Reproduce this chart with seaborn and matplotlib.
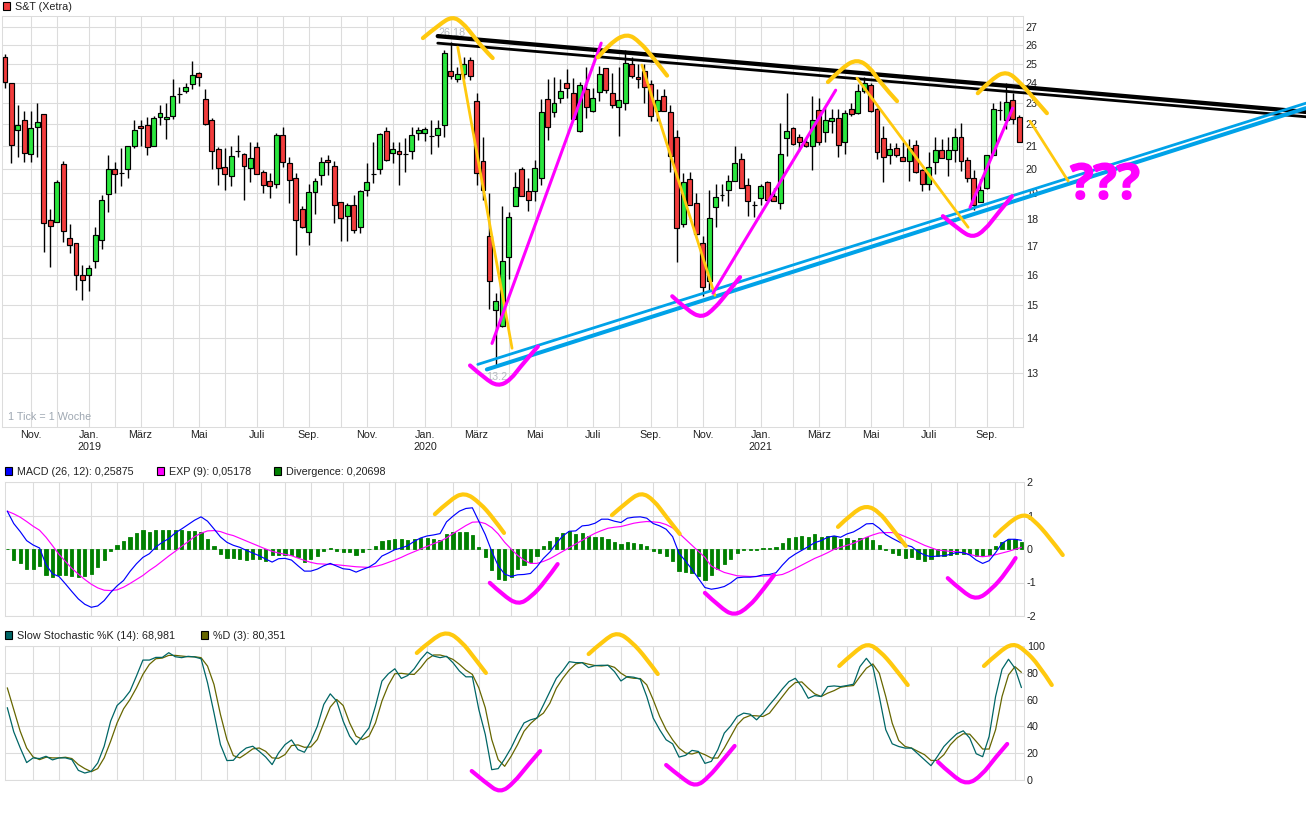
import matplotlib
matplotlib.use("Agg")
import matplotlib.pyplot as plt
import matplotlib.patheffects as pe
from matplotlib.patches import PathPatch, Rectangle
from matplotlib.path import Path
from matplotlib.ticker import NullLocator
import numpy as np
import seaborn as sns

W, H = 1306, 814

opens = [25.33,24.0,21.73,22.2,20.65,21.87,22.45,17.95,17.9,20.2,
         17.3,17.12,16.0,16.0,16.47,17.23,18.96,20.0,19.85,20.0,
         21.0,21.9,21.97,21.0,22.35,22.25,22.4,23.45,23.6,23.95,
         24.5,23.2,22.2,20.85,20.1,19.7,20.8,20.65,20.05,20.95,
         19.9,19.5,19.4,21.5,20.25,19.65,18.4,17.5,19.05,19.75,
         20.38,20.13,18.65,18.1,18.53,17.7,19.15,19.8,20.0,21.7,
         20.7,20.8,20.65,20.8,21.57,21.57,21.47,21.5,21.97,24.6,
         24.2,24.43,25.2,23.1,20.35,17.35,14.85,14.35,16.6,18.5,
         20.0,19.08,19.08,19.65,23.2,22.55,23.25,24.0,23.5,21.7,
         23.7,22.6,23.55,24.75,23.5,22.8,23.0,25.0,24.3,24.6,
         23.95,22.6,23.35,22.57,21.4,17.8,19.6,18.6,17.12,15.8,
         18.45,18.95,19.12,19.5,20.43,19.35,18.55,18.8,19.45,18.88,
         18.62,21.37,21.83,21.4,21.2,21.0,22.67,21.65,22.15,22.3,
         21.17,22.7,22.5,23.6,23.9,22.72,21.37,20.6,20.92,20.52,
         20.35,21.05,19.98,19.4,20.3,20.83,20.43,20.83,21.42,20.38,
         19.65,18.65,19.2,20.62,22.65,22.2,23.15,22.32]
closes = [24.05,21.03,21.95,20.7,21.8,22.1,17.85,17.75,19.45,17.55,
          17.05,16.0,15.83,16.23,17.4,18.75,20.0,19.8,19.85,21.0,
          21.73,21.8,20.95,22.3,22.5,22.35,23.35,23.45,23.8,24.4,
          24.3,22.0,20.8,20.05,19.8,20.55,20.8,20.13,20.47,19.8,
          19.35,19.3,21.5,20.3,19.55,17.95,17.7,19.05,19.5,20.3,
          20.3,18.55,18.03,18.53,17.6,19.08,19.45,19.8,21.55,20.38,
          20.85,20.63,20.65,21.5,21.73,21.78,21.47,21.82,25.55,24.35,
          24.43,25.0,24.35,19.85,19.15,15.8,15.15,16.48,18.07,19.25,
          18.88,18.75,20.05,22.55,21.87,23.0,23.6,23.75,22.25,23.9,
          22.8,23.25,24.45,23.65,22.9,23.15,25.05,24.35,24.2,23.8,
          22.4,23.15,22.63,20.55,17.65,19.45,18.53,17.45,15.6,18.03,
          18.85,18.95,19.5,20.25,19.2,18.7,18.55,19.3,18.75,18.68,
          20.67,21.7,21.08,21.2,21.0,22.2,21.17,22.2,22.3,21.03,
          22.5,22.45,23.6,24.0,22.6,20.75,20.52,20.87,20.6,20.35,
          20.92,19.87,19.4,20.07,20.83,20.47,20.83,21.42,20.35,19.65,
          18.55,19.15,20.6,22.72,22.65,23.05,22.25,21.2]
highs = [25.5,24.0,22.9,22.6,22.6,23.0,22.45,18.4,19.55,20.35,
         17.8,17.12,16.35,16.35,17.7,18.92,20.6,20.3,20.9,21.0,
         22.2,22.2,22.35,22.4,22.9,23.0,24.2,23.8,24.0,25.15,
         24.57,23.67,22.27,20.95,20.9,21.0,21.5,20.7,21.2,21.2,
         19.95,19.85,21.6,21.87,20.5,19.85,18.5,19.4,19.65,20.5,
         20.6,20.35,18.65,18.6,18.95,19.15,20.25,21.2,21.6,21.85,
         21.17,21.17,21.35,21.87,21.87,21.87,22.2,22.2,25.7,26.18,
         24.8,25.35,25.33,23.5,21.4,19.0,15.4,18.5,18.25,19.9,
         20.08,19.65,20.4,23.2,24.2,24.3,24.2,24.7,24.25,24.05,
         24.8,23.75,24.85,24.75,24.5,24.8,25.7,25.35,25.0,25.0,
         24.15,23.67,23.7,22.9,21.73,19.85,19.9,19.0,17.35,19.15,
         19.4,19.4,19.75,21.0,20.7,19.62,18.7,19.4,19.5,19.2,
         22.03,23.5,21.87,21.55,21.3,23.35,23.25,22.77,22.7,22.7,
         22.67,23.0,23.95,24.3,24.0,22.75,21.92,21.15,21.15,21.2,
         21.3,21.25,20.02,20.75,21.42,21.3,21.42,21.8,22.05,20.52,
         19.98,19.6,20.62,23.0,23.1,23.97,23.5,22.42]
lows = [23.75,20.25,20.5,20.3,20.3,20.5,16.8,16.25,17.9,17.15,
        16.75,15.5,15.17,15.45,16.23,16.9,18.25,19.0,19.3,19.65,
        20.9,21.0,20.6,21.0,21.95,21.3,22.25,23.0,23.5,23.7,
        23.83,21.97,20.0,19.35,19.15,19.3,20.5,18.75,19.45,19.8,
        19.03,18.83,19.2,20.07,18.6,16.7,17.65,17.03,18.18,19.35,
        19.75,17.85,17.2,17.2,17.47,17.47,18.9,19.43,19.8,20.35,
        20.27,19.35,19.9,20.45,21.28,21.23,20.67,20.97,21.4,24.2,
        24.05,24.2,24.13,19.35,18.75,14.88,13.2,14.33,15.87,18.5,
        18.88,18.3,18.68,19.35,21.25,22.35,23.0,23.25,22.2,21.65,
        22.3,22.55,23.1,23.5,22.75,21.45,22.65,24.25,23.75,23.0,
        22.15,22.15,22.6,19.9,16.45,17.7,18.53,17.38,15.3,15.5,
        17.7,18.7,18.52,19.5,19.2,18.1,18.07,18.55,18.7,18.68,
        18.38,20.55,21.03,20.8,20.97,19.97,21.05,21.17,21.6,20.5,
        20.67,22.4,22.47,23.5,22.55,20.42,19.48,20.2,20.52,20.33,
        19.52,19.83,19.1,19.15,19.8,20.47,19.73,20.3,19.93,19.45,
        18.33,18.65,19.18,20.62,22.2,21.75,22.0,21.2]

macd = [1.13,0.76,0.52,0.25,0.12,0.03,-0.47,-0.74,-0.82,-1.04,
        -1.27,-1.49,-1.65,-1.74,-1.70,-1.54,-1.30,-1.10,-0.94,-0.67,
        -0.44,-0.25,-0.14,0.06,0.20,0.31,0.48,0.60,0.73,0.86,
        0.96,0.83,0.60,0.36,0.20,0.11,0.05,-0.04,-0.12,-0.20,
        -0.30,-0.39,-0.29,-0.28,-0.33,-0.50,-0.66,-0.66,-0.60,-0.50,
        -0.43,-0.51,-0.59,-0.61,-0.69,-0.61,-0.54,-0.42,-0.21,-0.12,
        -0.02,0.03,0.10,0.23,0.33,0.39,0.42,0.46,0.81,0.98,
        1.13,1.21,1.23,0.83,0.43,-0.07,-0.50,-0.75,-0.82,-0.77,
        -0.76,-0.73,-0.53,-0.28,-0.09,0.17,0.39,0.53,0.54,0.69,
        0.71,0.77,0.89,0.89,0.83,0.79,0.92,0.95,0.96,0.92,
        0.76,0.69,0.59,0.37,-0.13,-0.36,-0.61,-0.88,-1.15,-1.20,
        -1.17,-1.12,-1.01,-0.86,-0.84,-0.84,-0.82,-0.77,-0.76,-0.71,
        -0.48,-0.28,-0.15,-0.04,0.07,0.19,0.25,0.35,0.39,0.35,
        0.45,0.51,0.62,0.75,0.76,0.62,0.43,0.32,0.22,0.12,
        0.07,-0.08,-0.18,-0.23,-0.21,-0.20,-0.16,-0.10,-0.11,-0.18,
        -0.33,-0.43,-0.35,-0.11,0.17,0.29,0.29,0.26]
exp9 = [1.13,1.05,0.95,0.82,0.68,0.56,0.35,0.10,-0.16,-0.37,
        -0.58,-0.75,-0.91,-1.05,-1.16,-1.23,-1.24,-1.22,-1.14,-1.03,
        -0.91,-0.79,-0.64,-0.51,-0.36,-0.21,-0.07,0.08,0.22,0.37,
        0.47,0.54,0.55,0.52,0.45,0.40,0.32,0.24,0.16,0.08,
        0.00,-0.07,-0.12,-0.16,-0.20,-0.27,-0.34,-0.40,-0.44,-0.45,
        -0.46,-0.47,-0.49,-0.51,-0.53,-0.54,-0.55,-0.52,-0.47,-0.40,
        -0.33,-0.25,-0.16,-0.08,0.00,0.08,0.16,0.23,0.33,0.46,
        0.58,0.70,0.80,0.81,0.76,0.64,0.45,0.20,0.00,-0.19,
        -0.33,-0.43,-0.43,-0.37,-0.29,-0.18,-0.07,0.04,0.15,0.26,
        0.37,0.47,0.55,0.62,0.65,0.67,0.72,0.77,0.80,0.82,
        0.81,0.79,0.73,0.63,0.47,0.29,0.11,-0.07,-0.25,-0.51,
        -0.61,-0.70,-0.75,-0.80,-0.81,-0.82,-0.82,-0.81,-0.80,-0.79,
        -0.76,-0.68,-0.58,-0.48,-0.38,-0.28,-0.20,-0.11,-0.01,0.05,
        0.11,0.17,0.26,0.35,0.42,0.48,0.49,0.49,0.45,0.37,
        0.29,0.20,0.11,0.04,-0.03,-0.05,-0.07,-0.08,-0.11,-0.16,
        -0.21,-0.23,-0.21,-0.17,-0.12,-0.07,-0.01,0.05]
divergence = [0.0,-0.32,-0.43,-0.59,-0.59,-0.52,-0.77,-0.85,-0.78,-0.79,
              -0.82,-0.85,-0.82,-0.74,-0.55,-0.32,-0.05,0.13,0.25,0.36,
              0.48,0.58,0.52,0.58,0.58,0.56,0.58,0.58,0.55,0.55,
              0.52,0.31,0.10,-0.14,-0.26,-0.28,-0.29,-0.32,-0.29,-0.30,
              -0.35,-0.18,-0.17,-0.17,-0.19,-0.25,-0.39,-0.30,-0.20,-0.07,
              0.04,-0.05,-0.10,-0.10,-0.17,-0.08,-0.01,0.10,0.25,0.28,
              0.31,0.31,0.28,0.31,0.34,0.34,0.31,0.28,0.46,0.52,
              0.52,0.52,0.43,0.07,-0.23,-0.62,-0.89,-0.92,-0.83,-0.59,
              -0.48,-0.38,-0.21,0.09,0.24,0.35,0.48,0.54,0.45,0.48,
              0.39,0.35,0.35,0.29,0.21,0.15,0.21,0.18,0.15,0.09,
              -0.05,-0.13,-0.21,-0.36,-0.65,-0.68,-0.72,-0.80,-0.93,-0.78,
              -0.60,-0.45,-0.30,-0.11,-0.02,-0.03,-0.03,0.02,0.03,0.06,
              0.18,0.33,0.36,0.39,0.36,0.45,0.36,0.39,0.39,0.30,
              0.33,0.27,0.33,0.36,0.27,0.12,-0.03,-0.13,-0.18,-0.27,
              -0.24,-0.30,-0.36,-0.30,-0.21,-0.21,-0.18,-0.15,-0.15,-0.15,
              -0.21,-0.21,-0.18,0.09,0.21,0.30,0.30,0.21]

stoch_k = [54,36,24,13,16.5,16,17.7,15,16.5,16.5,
           15.2,7.2,5.2,6.5,12.7,25.2,43.9,55.6,60.1,66.3,
           77.6,89.5,89.5,91.5,91.5,95,92,91.3,92.3,91.8,
           90.5,72.6,50.1,26.4,14.5,14.7,20.2,23.9,25.2,21.4,
           17.2,11.5,20.2,26.4,29.9,22.7,20.7,28.9,40.1,56.4,
           64.3,58.9,43.9,32.7,26.4,32.7,38.9,55.1,73.8,79.3,
           83,75.8,78,83,90,95.5,92.5,91.3,92.3,87.5,
           81.3,77,77,52.6,34,7.7,8.5,15.7,23.9,33.9,
           42.6,44.9,46.2,56,66,75.9,81.6,88.3,87.6,87.6,
           83.9,85.4,85.6,85.6,80.9,73.9,77.2,76.7,75.2,62.3,
           46.2,37.5,30,27,17.1,18.4,22.1,21.3,12.4,13.9,
           22.6,35,40.4,47.4,49.9,49.1,44.9,49.9,56.1,61.8,
           68,73.4,75.9,69.7,61,63,62.3,69.7,70.2,69.7,
           70.5,71.5,84.6,90.8,84.6,62.3,37.5,27,25,23.8,
           23.8,19.4,15.1,10.7,17.6,25,30,34.5,36.7,31.3,
           19.6,17.4,32.5,62.3,82.6,90.1,83.4,68.98]
stoch_d = [68.8,52.6,36.4,23.9,17.2,15.2,17,16.5,16.5,17,
           16,11.5,8.5,6.2,8.5,16.5,28.9,42.6,53.1,60.1,
           68.8,78.8,86.3,90.5,91,93,93,92.5,92,92,
           91.3,85,71.3,48.9,30.2,18.2,16.5,19.7,23.2,23.9,
           21.4,16.5,16.2,19,25.7,26.2,24.4,24.7,30.2,42.6,
           54.4,60.1,55.6,42.6,32.7,30.2,32.7,42.6,58.9,70.8,
           79.3,79.6,79,78.8,83.8,90,93.3,93.3,92,90,
           86.3,82,78.8,68.8,53.9,30.2,15.2,10.2,17.7,26.4,
           36.4,42.1,46.4,49.9,57.3,68.5,75.9,82.1,86.6,87.6,
           86.4,85.4,85.1,85.6,84.1,79.7,76.7,75.9,75.7,71,
           59.8,47.4,37.5,30,23.8,20.1,19.4,20.8,18.9,16.4,
           16.4,23.8,32.5,41.2,46.2,48.1,47.9,47.4,49.9,56.1,
           62.3,68.5,72.7,73.2,68.5,64.3,62.3,64.8,66.7,69.2,
           70,70.5,77.2,83.4,86.6,79.7,62.3,42.4,29.5,25,
           23.8,21.3,18.9,14.6,14.6,18.9,26.3,31.3,34.5,34.2,
           28.8,23.1,23.1,37.5,62.3,78.4,84.6,80.35]

month_weeks = [4,8,13,17,21,26,30,34,39,43,47,52,56,60,65,69,73,78,82,87,91,95,
               100,104,108,113,117,122,126,130,134,139,143,147,152,156]
month_labels = ["Nov.","","Jan.\n2019","","März","","Mai","","Juli","","Sep.","",
                "Nov.","","Jan.\n2020","","März","","Mai","","Juli","",
                "Sep.","","Nov.","","Jan.\n2021","","März","","Mai","","Juli","","Sep.",""]
price_ticks = list(range(13, 28))
macd_ticks = [-2, -1, 0, 1, 2]
stoch_ticks = [0, 20, 40, 60, 80, 100]

# hand drawn trend lines, (weeks, values) in each panel's own units
black_thick = ([67.0, 201.4], [26.49, 22.57])
black_thin = ([67.0, 201.4], [26.1, 22.34])
blue_thin = ([73.2, 201.4], [13.24, 22.99])
blue_thick = ([74.6, 201.4], [13.10, 22.75])
price_yellow_lines = [([70.1, 78.5], [25.88, 13.70]), ([98.6, 109.9], [24.92, 15.32]),
                      ([131.9, 149.1], [24.24, 17.69]), ([158.7, 164.6], [22.13, 19.5])]
price_magenta_lines = [([75.4, 92.3], [13.84, 26.1]), ([109.6, 128.6], [15.39, 23.63]),
                       ([149.4, 156.0], [18.45, 22.75])]
price_yellow_arcs = [([64.7, 67.3, 69.3, 70.9, 72.4, 74.0, 75.5], [26.38, 27.17, 27.62, 27.23, 26.55, 25.83, 25.29]),
                     ([91.8, 93.7, 96.3, 98.3, 100.3, 102.5], [25.33, 26.1, 26.65, 26.16, 25.33, 24.37]),
                     ([127.4, 129.7, 131.9, 133.9, 135.4, 138.1], [24.04, 24.81, 25.23, 24.81, 24.04, 23.09]),
                     ([150.6, 152.9, 155.1, 157.1, 159.1, 161.3], [23.48, 24.24, 24.6, 24.04, 23.29, 22.51])]
price_magenta_arcs = [([72.0, 74.3, 76.3, 78.2, 80.2, 82.5], [13.21, 12.85, 12.64, 12.8, 13.27, 13.75]),
                      ([103.3, 105.6, 107.9, 109.9, 111.8, 113.8], [15.29, 14.85, 14.6, 14.91, 15.39, 15.92]),
                      ([145.2, 147.8, 149.8, 151.7, 153.7, 155.9], [18.11, 17.58, 17.3, 17.58, 18.22, 18.89])]
macd_yellow_arcs = [([66.2, 68.5, 70.8, 73.2, 75.2, 76.9], [1.04, 1.46, 1.70, 1.37, 0.93, 0.48]),
                    ([93.6, 95.9, 98.1, 100.1, 102.0, 104.1], [1.01, 1.40, 1.70, 1.46, 0.96, 0.45]),
                    ([128.6, 130.8, 133.0, 135.0, 136.8, 139.1], [0.66, 1.07, 1.31, 1.10, 0.66, 0.09]),
                    ([152.9, 155.1, 157.4, 158.9, 161.3, 163.4], [0.39, 0.81, 1.05, 0.87, 0.36, -0.18])]
macd_magenta_arcs = [([74.7, 76.7, 79.1, 81.1, 83.2, 85.2], [-1.01, -1.37, -1.67, -1.43, -0.99, -0.45]),
                     ([108.0, 110.3, 112.5, 114.8, 117.0, 118.7], [-1.31, -1.73, -2.0, -1.73, -1.22, -0.78]),
                     ([145.6, 147.9, 150.1, 152.3, 154.6, 156.1], [-0.87, -1.28, -1.52, -1.22, -0.72, -0.27])]
stoch_yellow_arcs = [([63.4, 65.6, 68.1, 70.4, 72.2, 74.1], [94.8, 104.5, 111.2, 103, 91.8, 79.9]),
                     ([90.0, 92.4, 94.5, 96.7, 98.9, 100.7], [94, 104.5, 110.5, 103, 91, 79.1]),
                     ([128.8, 131.1, 133.2, 135.1, 137.3, 139.4], [85.1, 95.5, 102.2, 96.3, 84.3, 70.9]),
                     ([151.2, 153.5, 155.7, 157.5, 159.7, 161.7], [85.1, 95.5, 102.2, 97, 85.8, 70.9])]
stoch_magenta_arcs = [([71.9, 74.1, 76.3, 78.4, 80.6, 82.5], [6.7, -2.2, -9.7, -2.2, 11.2, 21.6]),
                      ([102.0, 104.4, 106.6, 108.6, 110.8, 112.6], [11.2, 1.5, -5.2, 2.2, 14.9, 25.4]),
                      ([144.1, 146.2, 148.6, 150.9, 152.9, 154.8], [13.4, 3.7, -3.7, 3.7, 16.4, 26.9])]

YELLOW = "#ffc90e"
MAGENTA = "#ff00ff"
BLUE = "#00a2e8"
GRID = "#dcdcdc"
FONT_SIZE = 7.75

sns.set_theme(style="white", rc={"axes.linewidth": 0.75, "axes.edgecolor": GRID,
                                 "grid.color": GRID, "grid.linewidth": 0.8})
plt.rcParams["font.family"] = ["Liberation Sans", "DejaVu Sans"]


def panel(left, top, right, bottom):
    ax = fig.add_axes([left / W, 1 - bottom / H, (right - left) / W, (bottom - top) / H])
    return ax


def finish_panel(ax, xlim, yticks, ylim):
    ax.set_xlim(*xlim)
    ax.set_ylim(*ylim)
    ax.set_xticks(month_weeks)
    ax.set_xticklabels([])
    ax.set_yticks(yticks)
    ax.yaxis.set_minor_locator(NullLocator())
    ax.set_yticklabels([str(t) for t in yticks])
    ax.yaxis.tick_right()
    ax.tick_params(axis="both", length=0, labelsize=FONT_SIZE, colors="#222222", pad=2)
    ax.grid(True)
    ax.set_axisbelow(True)
    ax.set_xlabel("")
    ax.set_ylabel("")


def strokes(ax, lines, color, lw, zorder=6):
    # straight lines stay straight, the freehand arcs go through a quadratic curve
    for xs, ys in lines:
        pts = list(zip(xs, ys))
        if len(pts) == 2:
            ax.plot(xs, ys, color=color, lw=lw, clip_on=False, zorder=zorder, solid_capstyle="round")
            continue
        verts = [pts[0]]
        codes = [Path.MOVETO]
        for a, b in zip(pts[1:-2], pts[2:-1]):
            verts += [a, ((a[0] + b[0]) / 2, (a[1] + b[1]) / 2)]
            codes += [Path.CURVE3, Path.CURVE3]
        verts += [pts[-2], pts[-1]]
        codes += [Path.CURVE3, Path.CURVE3]
        ax.add_patch(PathPatch(Path(verts, codes), fill=False, edgecolor=color, lw=lw, clip_on=False,
                               zorder=zorder, capstyle="round", joinstyle="round"))


def legend_item(x, y, color, text):
    fig.add_artist(Rectangle((x / W, 1 - (y + 4) / H), 7 / W, 8 / H, transform=fig.transFigure,
                             facecolor=color, edgecolor="black", lw=0.8))
    fig.text((x + 12) / W, 1 - (y + 0.8) / H, text, fontsize=FONT_SIZE, color="#222222", va="center")


fig = plt.figure(figsize=(W / 100, H / 100), dpi=100, facecolor="white")
weeks = np.arange(len(closes))

# price panel
ax_price = panel(2, 16, 1023, 427)
ax_price.set_yscale("log")
opens_a, closes_a = np.array(opens), np.array(closes)
candle_colors = ["#2ae63e" if c >= o else "#f23d3d" for o, c in zip(opens, closes)]
ax_price.vlines(weeks, lows, highs, color="black", lw=1.0, zorder=3)
ax_price.bar(weeks, np.abs(closes_a - opens_a), bottom=np.minimum(opens_a, closes_a), width=0.76,
             color=candle_colors, edgecolor="black", linewidth=0.85, zorder=4)
finish_panel(ax_price, (-0.46, 157.6), price_ticks, (11.6, 27.64))
ax_price.set_xticklabels(month_labels, ma="center", linespacing=1.3)

strokes(ax_price, [black_thick], "black", 3.1, zorder=5)
strokes(ax_price, [black_thin], "black", 2.0, zorder=5)
strokes(ax_price, [blue_thin], BLUE, 2.0, zorder=5)
strokes(ax_price, [blue_thick], BLUE, 2.9, zorder=5)
strokes(ax_price, price_yellow_lines, YELLOW, 2.0)
strokes(ax_price, price_magenta_lines, MAGENTA, 2.2)
strokes(ax_price, price_yellow_arcs, YELLOW, 3.0)
strokes(ax_price, price_magenta_arcs, MAGENTA, 3.0)

ax_price.annotate("26.18", (69.2, 26.18), xytext=(0, 6), textcoords="offset points", ha="center",
                  va="center", fontsize=FONT_SIZE, color="#b4bac0", zorder=4.5)
ax_price.annotate("13.2", (76.2, 13.2), xytext=(0, -8), textcoords="offset points", ha="center",
                  va="center", fontsize=FONT_SIZE, color="#b4bac0", zorder=4.5)
ax_price.text(0.006, 0.024, "1 Tick = 1 Woche", transform=ax_price.transAxes, fontsize=FONT_SIZE,
              color="#9fa8b2", va="center")
ax_price.text(170.3, 19.3, "???", color=MAGENTA, fontsize=35, fontweight="bold", family="Open Sans",
              ha="center", va="center", clip_on=False, zorder=7,
              path_effects=[pe.withStroke(linewidth=1.2, foreground=MAGENTA)])

# MACD panel
ax_macd = panel(4.5, 482, 1024, 616)
sns.barplot(x=weeks, y=divergence, native_scale=True, color="#008000", saturation=1, width=0.5,
            errorbar=None, ax=ax_macd, zorder=3, edgecolor="#008000", linewidth=0.6)
sns.lineplot(x=weeks, y=exp9, color=MAGENTA, lw=0.85, errorbar=None, ax=ax_macd, zorder=4)
sns.lineplot(x=weeks, y=macd, color="#0000ff", lw=0.85, errorbar=None, ax=ax_macd, zorder=4)
finish_panel(ax_macd, (-0.43, 157.4), macd_ticks, (-2, 2))
strokes(ax_macd, macd_yellow_arcs, YELLOW, 3.0)
strokes(ax_macd, macd_magenta_arcs, MAGENTA, 3.0)

# stochastic panel
ax_stoch = panel(4.5, 646, 1024, 780)
sns.lineplot(x=weeks, y=stoch_d, color="#666600", lw=0.9, errorbar=None, ax=ax_stoch, zorder=4)
sns.lineplot(x=weeks, y=stoch_k, color="#006666", lw=0.9, errorbar=None, ax=ax_stoch, zorder=4)
finish_panel(ax_stoch, (-0.43, 157.4), stoch_ticks, (0, 100))
strokes(ax_stoch, stoch_yellow_arcs, YELLOW, 3.0)
strokes(ax_stoch, stoch_magenta_arcs, MAGENTA, 3.0)

# legend rows
legend_item(3, 6, "#f23d3d", "S&T (Xetra)")
legend_item(5, 471, "#0000ff", "MACD (26, 12): 0,25875")
legend_item(157, 471, "#ff00ff", "EXP (9): 0,05178")
legend_item(274, 471, "#008000", "Divergence: 0,20698")
legend_item(5, 635, "#006666", "Slow Stochastic %K (14): 68,981")
legend_item(201, 635, "#666600", "%D (3): 80,351")

fig.savefig("out.png", dpi=100)
